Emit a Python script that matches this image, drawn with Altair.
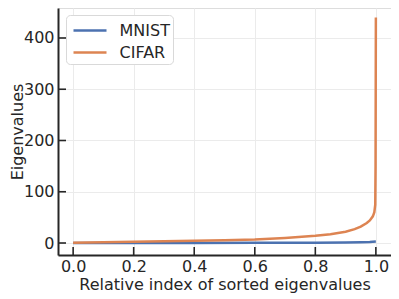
import altair as alt
import pandas as pd

# ---- data ----
mnist_x = [0.0, 0.2, 0.4, 0.6, 0.8, 0.9, 0.95, 0.98, 1.0]
mnist_y = [0.0, 0.1, 0.2, 0.4, 0.7, 1.0, 1.4, 1.9, 3.0]

cifar_x = [0.0, 0.1, 0.2, 0.3, 0.4, 0.5, 0.6, 0.7, 0.8, 0.85, 0.9, 0.93,
           0.95, 0.97, 0.98, 0.99, 0.995, 0.998, 0.999, 1.0]
cifar_y = [0.5, 1.5, 2.5, 3.5, 4.5, 5.5, 7.0, 10.0, 14.0, 17.0, 22.0, 27.0,
           32.0, 39.0, 44.0, 52.0, 60.0, 75.0, 150.0, 440.0]

series = ["MNIST", "CIFAR"]
colors = ["#4c72b0", "#dd8452"]

x_ticks = [0.0, 0.2, 0.4, 0.6, 0.8, 1.0]
y_ticks = [0, 100, 200, 300, 400]

W, H = 333, 247

mnist = pd.DataFrame({"x": mnist_x, "y": mnist_y, "series": "MNIST"})
cifar = pd.DataFrame({"x": cifar_x, "y": cifar_y, "series": "CIFAR"})

xscale = alt.Scale(domain=[-0.05, 1.05], nice=False, zero=False)
yscale = alt.Scale(domain=[-23.4, 458.5], nice=False, zero=False)
cscale = alt.Scale(domain=series, range=colors)

font = "DejaVu Sans"
FS = 16

xaxis = alt.Axis(values=x_ticks, format=".1f", title="Relative index of sorted eigenvalues",
                 grid=True, gridColor="#ebebeb", gridWidth=1, ticks=False,
                 domainColor="#262626", domainWidth=2, labelFont=font, labelFontSize=FS,
                 labelColor="#262626", labelPadding=3, titleFont=font, titleFontSize=FS,
                 titleFontWeight="normal", titleColor="#262626", titlePadding=2)
yaxis = alt.Axis(values=y_ticks, title="Eigenvalues",
                 grid=True, gridColor="#ebebeb", gridWidth=1, ticks=False,
                 domainColor="#262626", domainWidth=2, labelFont=font, labelFontSize=FS,
                 labelColor="#262626", labelPadding=4, titleFont=font, titleFontSize=FS,
                 titleFontWeight="normal", titleColor="#262626",
                 titleX=-49, titleY=H / 2, titleAngle=-90, titleAlign="center",
                 titleBaseline="top")

legend = alt.Legend(title=None, orient="none", legendX=8, legendY=7,
                    symbolType="M-1.5,0H1.5", symbolSize=484, symbolStrokeWidth=2.5,
                    symbolOffset=8.5,
                    labelFont=font, labelFontSize=FS, labelColor="#262626",
                    fillColor="white", strokeColor="#d9d9d9", cornerRadius=4,
                    padding=3, rowPadding=1, labelOffset=17)

base_m = alt.Chart(mnist).mark_line(strokeWidth=2.5).encode(
    x=alt.X("x:Q", scale=xscale, axis=xaxis),
    y=alt.Y("y:Q", scale=yscale, axis=yaxis),
    color=alt.Color("series:N", scale=cscale, legend=legend, sort=series),
)
base_c = alt.Chart(cifar).mark_line(strokeWidth=2.5).encode(
    x=alt.X("x:Q", scale=xscale),
    y=alt.Y("y:Q", scale=yscale),
    color=alt.Color("series:N", scale=cscale, sort=series),
)

xt = alt.Chart(pd.DataFrame({"t": x_ticks})).mark_rule(color="#262626", strokeWidth=1.6).encode(
    x=alt.X("t:Q", scale=xscale),
    y=alt.value(H), y2=alt.value(H - 8),
)
yt = alt.Chart(pd.DataFrame({"t": y_ticks})).mark_rule(color="#262626", strokeWidth=1.6).encode(
    y=alt.Y("t:Q", scale=yscale),
    x=alt.value(0), x2=alt.value(8),
)

chart = alt.layer(base_m, base_c, xt, yt).properties(
    width=W, height=H,
    autosize=alt.AutoSizeParams(type="none"),
    padding={"left": 50, "top": 0, "right": 0, "bottom": 44},
).configure_view(stroke=None).configure(background="white")

chart.save("out.html", embed_options={"renderer": "svg", "actions": False})
